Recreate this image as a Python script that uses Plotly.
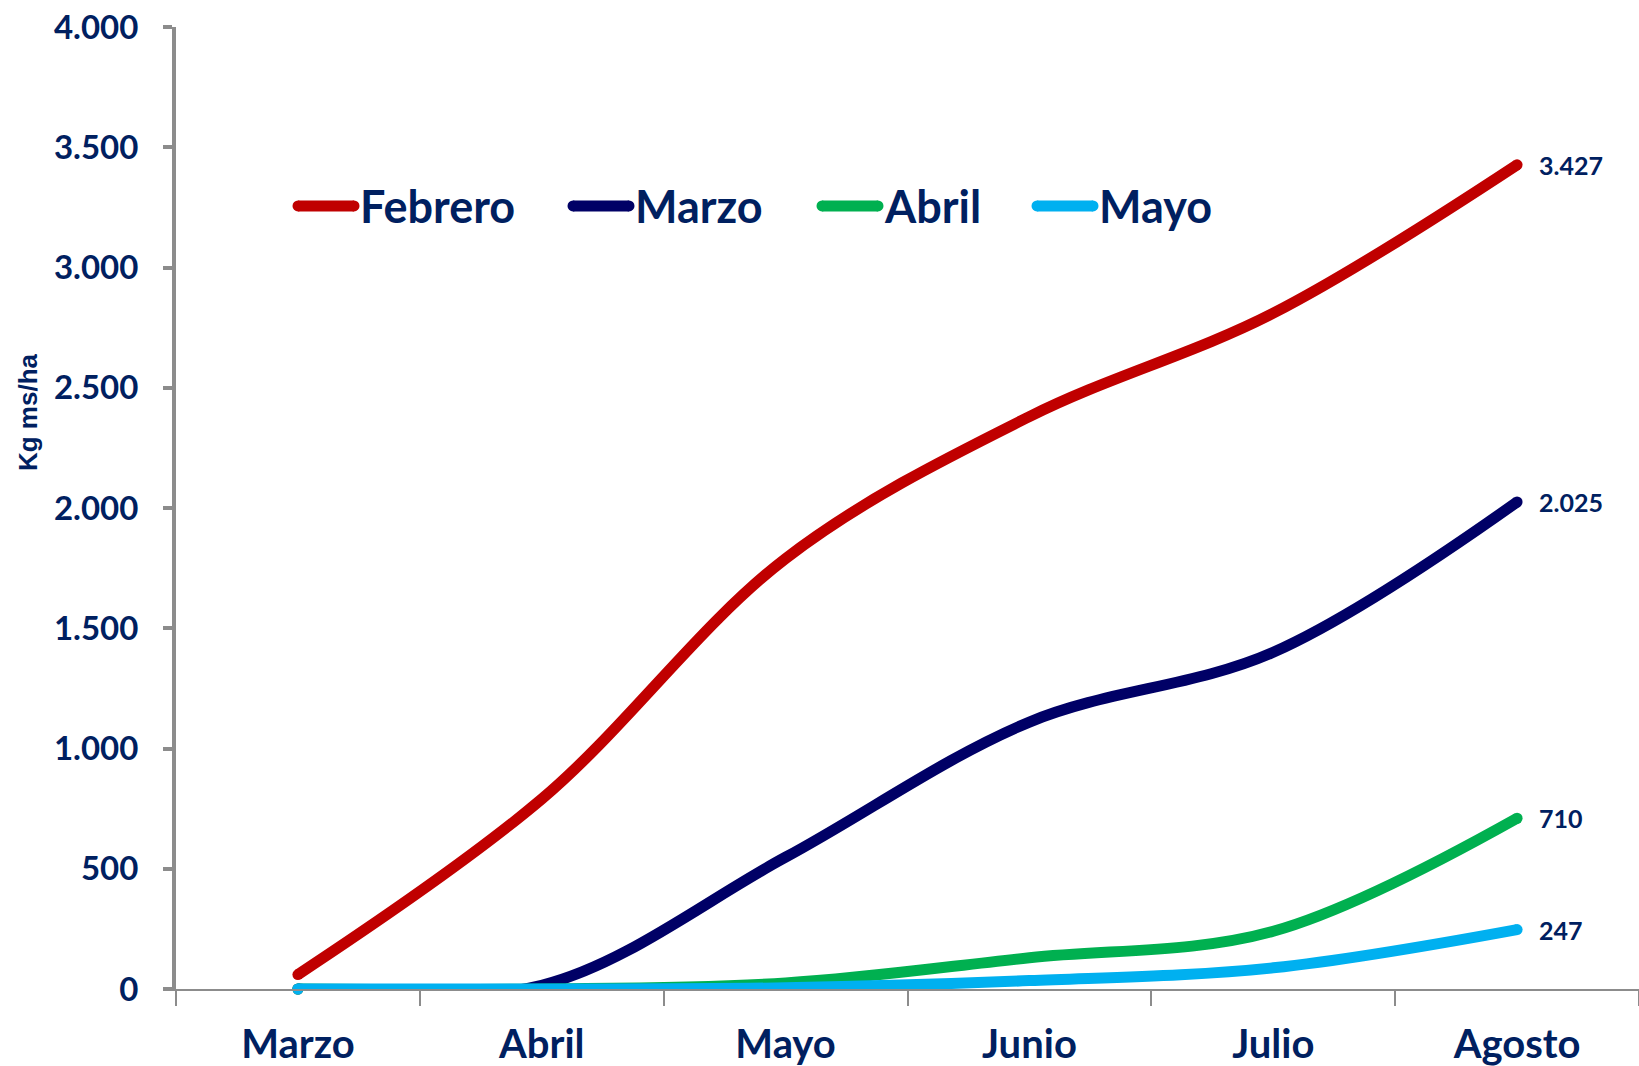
import plotly.graph_objects as go

# Acumulado de materia seca (Kg ms/ha) por mes de siembra
meses = ["Marzo", "Abril", "Mayo", "Junio", "Julio", "Agosto"]
febrero = [60, 790, 1790, 2380, 2810, 3427]
marzo = [0, 15, 548, 1110, 1400, 2025]
abril = [0, 0, 25, 130, 240, 710]
mayo = [0, 0, 5, 35, 88, 247]

series = [
    ("Febrero", febrero, "#C00000"),
    ("Marzo", marzo, "#000066"),
    ("Abril", abril, "#00B050"),
    ("Mayo", mayo, "#00B0F0"),
]

# left edge of each legend swatch, in pixels from the plot's left edge
legend_x_px = [122, 397, 646, 861]
SWATCH_PX = 56
LEGEND_Y = 0.814

NAVY = "#002060"
AXIS_GRAY = "#8C8C8C"
LW = 11
PLOT_W = 1639 - 176

fig = go.Figure()
annotations = []
shapes = []
for (nombre, valores, color), lx in zip(series, legend_x_px):
    fig.add_trace(go.Scatter(
        x=meses, y=valores, name=nombre, mode="lines", showlegend=False,
        line=dict(color=color, width=LW, shape="spline", smoothing=1.0),
    ))
    # round caps at both ends of each line
    fig.add_trace(go.Scatter(
        x=[meses[0], meses[-1]], y=[valores[0], valores[-1]],
        mode="markers", showlegend=False, hoverinfo="skip",
        marker=dict(color=color, size=LW, line=dict(width=0)),
        cliponaxis=False,
    ))
    # value label at the last month
    annotations.append(dict(
        x=meses[-1], y=valores[-1], xref="x", yref="y",
        text=f"{valores[-1]:,}".replace(",", "."), showarrow=False,
        xanchor="left", yanchor="middle", xshift=20,
        font=dict(family="Lato", size=25, color=NAVY, weight="bold"),
    ))
    # legend entry: swatch with rounded ends + label
    x0 = lx / PLOT_W
    x1 = (lx + SWATCH_PX) / PLOT_W
    shapes.append(dict(type="line", xref="paper", yref="paper",
                       x0=x0, x1=x1, y0=LEGEND_Y, y1=LEGEND_Y,
                       line=dict(color=color, width=11)))
    for xe in (x0, x1):
        shapes.append(dict(type="circle", xref="paper", yref="paper",
                           xsizemode="pixel", ysizemode="pixel",
                           xanchor=xe, yanchor=LEGEND_Y,
                           x0=-5.5, x1=5.5, y0=-5.5, y1=5.5,
                           fillcolor=color, line=dict(width=0)))
    annotations.append(dict(
        x=x1, y=LEGEND_Y, xref="paper", yref="paper", text=nombre,
        showarrow=False, xanchor="left", yanchor="middle", xshift=4,
        font=dict(family="Lato", size=45, color=NAVY, weight="bold"),
    ))

annotations.append(dict(
    text="Kg ms/ha", textangle=-90, xref="paper", yref="paper",
    x=-0.101, y=0.6, xanchor="center", yanchor="middle", showarrow=False,
    font=dict(family="Liberation Sans", size=26, color=NAVY, weight="bold"),
))

fig.update_layout(
    width=1639, height=1066,
    margin=dict(l=176, r=0, t=27, b=77),
    paper_bgcolor="white", plot_bgcolor="white",
    separators=",.",
    showlegend=False,
    xaxis=dict(
        type="category", range=[-0.5, 5.5],
        showline=True, linecolor=AXIS_GRAY, linewidth=2,
        ticks="outside", tickson="boundaries", ticklen=15, tickwidth=1.5,
        tickcolor=AXIS_GRAY, showgrid=False, zeroline=False,
        ticklabelstandoff=19,
        tickfont=dict(family="Lato", size=40, color=NAVY, weight="bold"),
    ),
    yaxis=dict(
        range=[0, 4000], dtick=500, tickformat=",d",
        showline=True, linecolor=AXIS_GRAY, linewidth=4,
        ticks="outside", ticklen=9, tickwidth=4, tickcolor=AXIS_GRAY,
        showgrid=False, zeroline=False, ticklabelstandoff=18,
        tickfont=dict(family="Lato", size=33, color=NAVY, weight="bold"),
    ),
    annotations=annotations,
    shapes=shapes,
)

fig.write_html("out.html")
